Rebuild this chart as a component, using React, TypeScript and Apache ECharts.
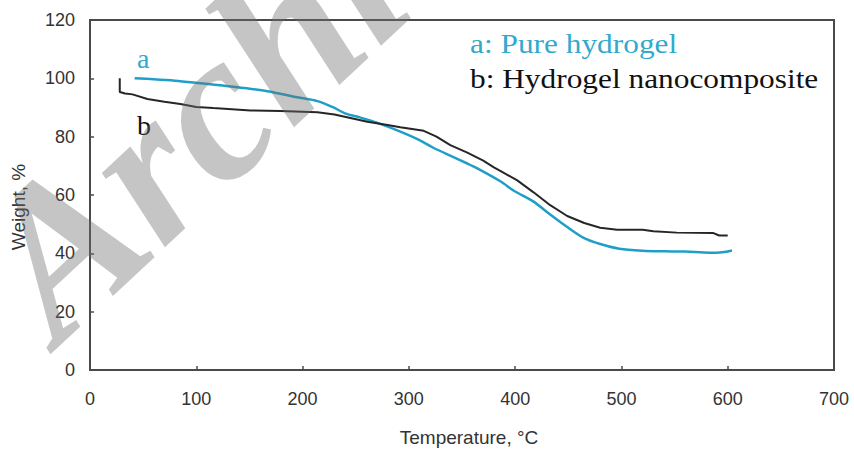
import React, { useEffect, useRef } from "react";
import * as echarts from "echarts";

// Temperature (°C), weight (%)
const pureHydrogelT = [42, 60, 80, 104, 130, 167, 195, 214, 228, 240, 254, 270, 292, 310, 323, 340, 355, 364, 386, 400, 417, 433, 449, 464, 480, 498, 520, 540, 560, 583, 595, 604];
const pureHydrogelW = [100, 99.7, 99.2, 98.3, 97.3, 95.6, 93.5, 92.2, 90.2, 88.0, 86.6, 84.8, 81.7, 78.8, 76.2, 73.3, 70.8, 69.2, 64.7, 61.2, 57.8, 53.3, 49.0, 45.4, 43.2, 41.6, 40.9, 40.7, 40.6, 40.2, 40.4, 41.0];

const nanocompositeT = [28, 28, 33, 40, 54, 70, 85, 100, 116, 151, 179, 214, 230, 245, 261, 280, 292, 314, 326, 339, 355, 370, 380, 386, 402, 417, 433, 449, 465, 480, 496, 520, 530, 552, 586, 592, 600];
const nanocompositeW = [100, 95.3, 94.8, 94.5, 92.9, 92.0, 91.2, 90.2, 89.8, 89.0, 88.8, 88.4, 87.6, 86.4, 85.1, 84.0, 83.2, 82.0, 80.0, 77.1, 74.5, 71.8, 69.5, 68.3, 65.0, 61.0, 56.5, 52.8, 50.4, 48.8, 48.1, 48.1, 47.6, 47.1, 47.0, 46.1, 46.1];

const legendLabels = ["a: Pure hydrogel", "b: Hydrogel nanocomposite"];
const curveLabels = ["a", "b"];
const xTitle = "Temperature, °C";
const yTitle = "Weight, %";
const watermark = "Archive of SID";

const CYAN = "#1f9fc8";
const CYAN_TEXT = "#33a9cc";
const BLACK = "#262626";

export default function App() {
  const ref = useRef<HTMLDivElement>(null);
  useEffect(() => {
    if (!ref.current) return;
    const chart = echarts.init(ref.current, undefined, { renderer: "svg" });
    const pairs = (xs: number[], ys: number[]) => xs.map((x, i) => [x, ys[i]]);
    const serif = "Liberation Serif";
    const sans = "Liberation Sans";
    chart.setOption({
      animation: false,
      backgroundColor: "#ffffff",
      grid: {
        left: 90,
        right: 20,
        top: 20,
        bottom: 78,
        show: true,
        borderColor: "#4a4a4a",
        borderWidth: 2,
        backgroundColor: "transparent",
      },
      xAxis: {
        type: "value",
        min: 0,
        max: 700,
        interval: 100,
        name: xTitle,
        nameLocation: "middle",
        nameGap: 58,
        nameTextStyle: { fontFamily: sans, fontSize: 19, color: "#333", padding: [0, 0, 0, 14] },
        axisLine: { show: true, lineStyle: { color: "#4a4a4a", width: 2 } },
        axisTick: { show: true, inside: true, length: 4, lineStyle: { color: "#4a4a4a", width: 1.5 } },
        axisLabel: { fontFamily: sans, fontSize: 18, color: "#333", margin: 20 },
        splitLine: { show: false },
      },
      yAxis: {
        type: "value",
        min: 0,
        max: 120,
        interval: 20,
        name: yTitle,
        nameLocation: "middle",
        nameGap: 62,
        nameTextStyle: { fontFamily: sans, fontSize: 19, color: "#333", padding: [0, 24, 0, 0] },
        axisLine: { show: true, lineStyle: { color: "#4a4a4a", width: 2 } },
        axisTick: { show: true, inside: true, length: 4, lineStyle: { color: "#4a4a4a", width: 1.5 } },
        axisLabel: { fontFamily: sans, fontSize: 18, color: "#333", margin: 15 },
        splitLine: { show: false },
      },
      series: [
        {
          name: legendLabels[0],
          type: "line",
          data: pairs(pureHydrogelT, pureHydrogelW),
          showSymbol: false,
          smooth: 0.3,
          lineStyle: { color: CYAN, width: 2.5 },
          z: 3,
        },
        {
          name: legendLabels[1],
          type: "line",
          data: pairs(nanocompositeT, nanocompositeW),
          showSymbol: false,
          smooth: false,
          lineStyle: { color: BLACK, width: 2 },
          z: 4,
        },
      ],
      graphic: [
        {
          type: "text",
          x: 470,
          y: 43.5,
          scaleX: 1.12,
          style: { text: legendLabels[0], fontFamily: serif, fontSize: 28, fill: CYAN_TEXT, verticalAlign: "middle", align: "left" },
          z: 10,
        },
        {
          type: "text",
          x: 470,
          y: 78.5,
          scaleX: 1.12,
          style: { text: legendLabels[1], fontFamily: serif, fontSize: 28, fill: "#111", verticalAlign: "middle", align: "left" },
          z: 10,
        },
        {
          type: "text",
          x: 137,
          y: 58.5,
          style: { text: curveLabels[0], fontFamily: serif, fontSize: 28, fill: CYAN_TEXT, verticalAlign: "middle", align: "left" },
          z: 10,
        },
        {
          type: "text",
          x: 137,
          y: 125,
          style: { text: curveLabels[1], fontFamily: serif, fontSize: 28, fill: "#111", verticalAlign: "middle", align: "left" },
          z: 10,
        },
        {
          type: "text",
          x: 82,
          y: 372,
          rotation: (43 * Math.PI) / 180,
          style: {
            text: watermark,
            fontFamily: serif,
            fontStyle: "italic",
            fontWeight: "bold",
            fontSize: 212,
            fill: "rgba(110,110,110,0.4)",
            verticalAlign: "bottom",
            align: "left",
          },
          z: 100,
        },
      ],
    });
    return () => chart.dispose();
  }, []);
  return <div ref={ref} style={{ position: "fixed", left: 0, top: 0, width: 854, height: 452 }} />;
}
